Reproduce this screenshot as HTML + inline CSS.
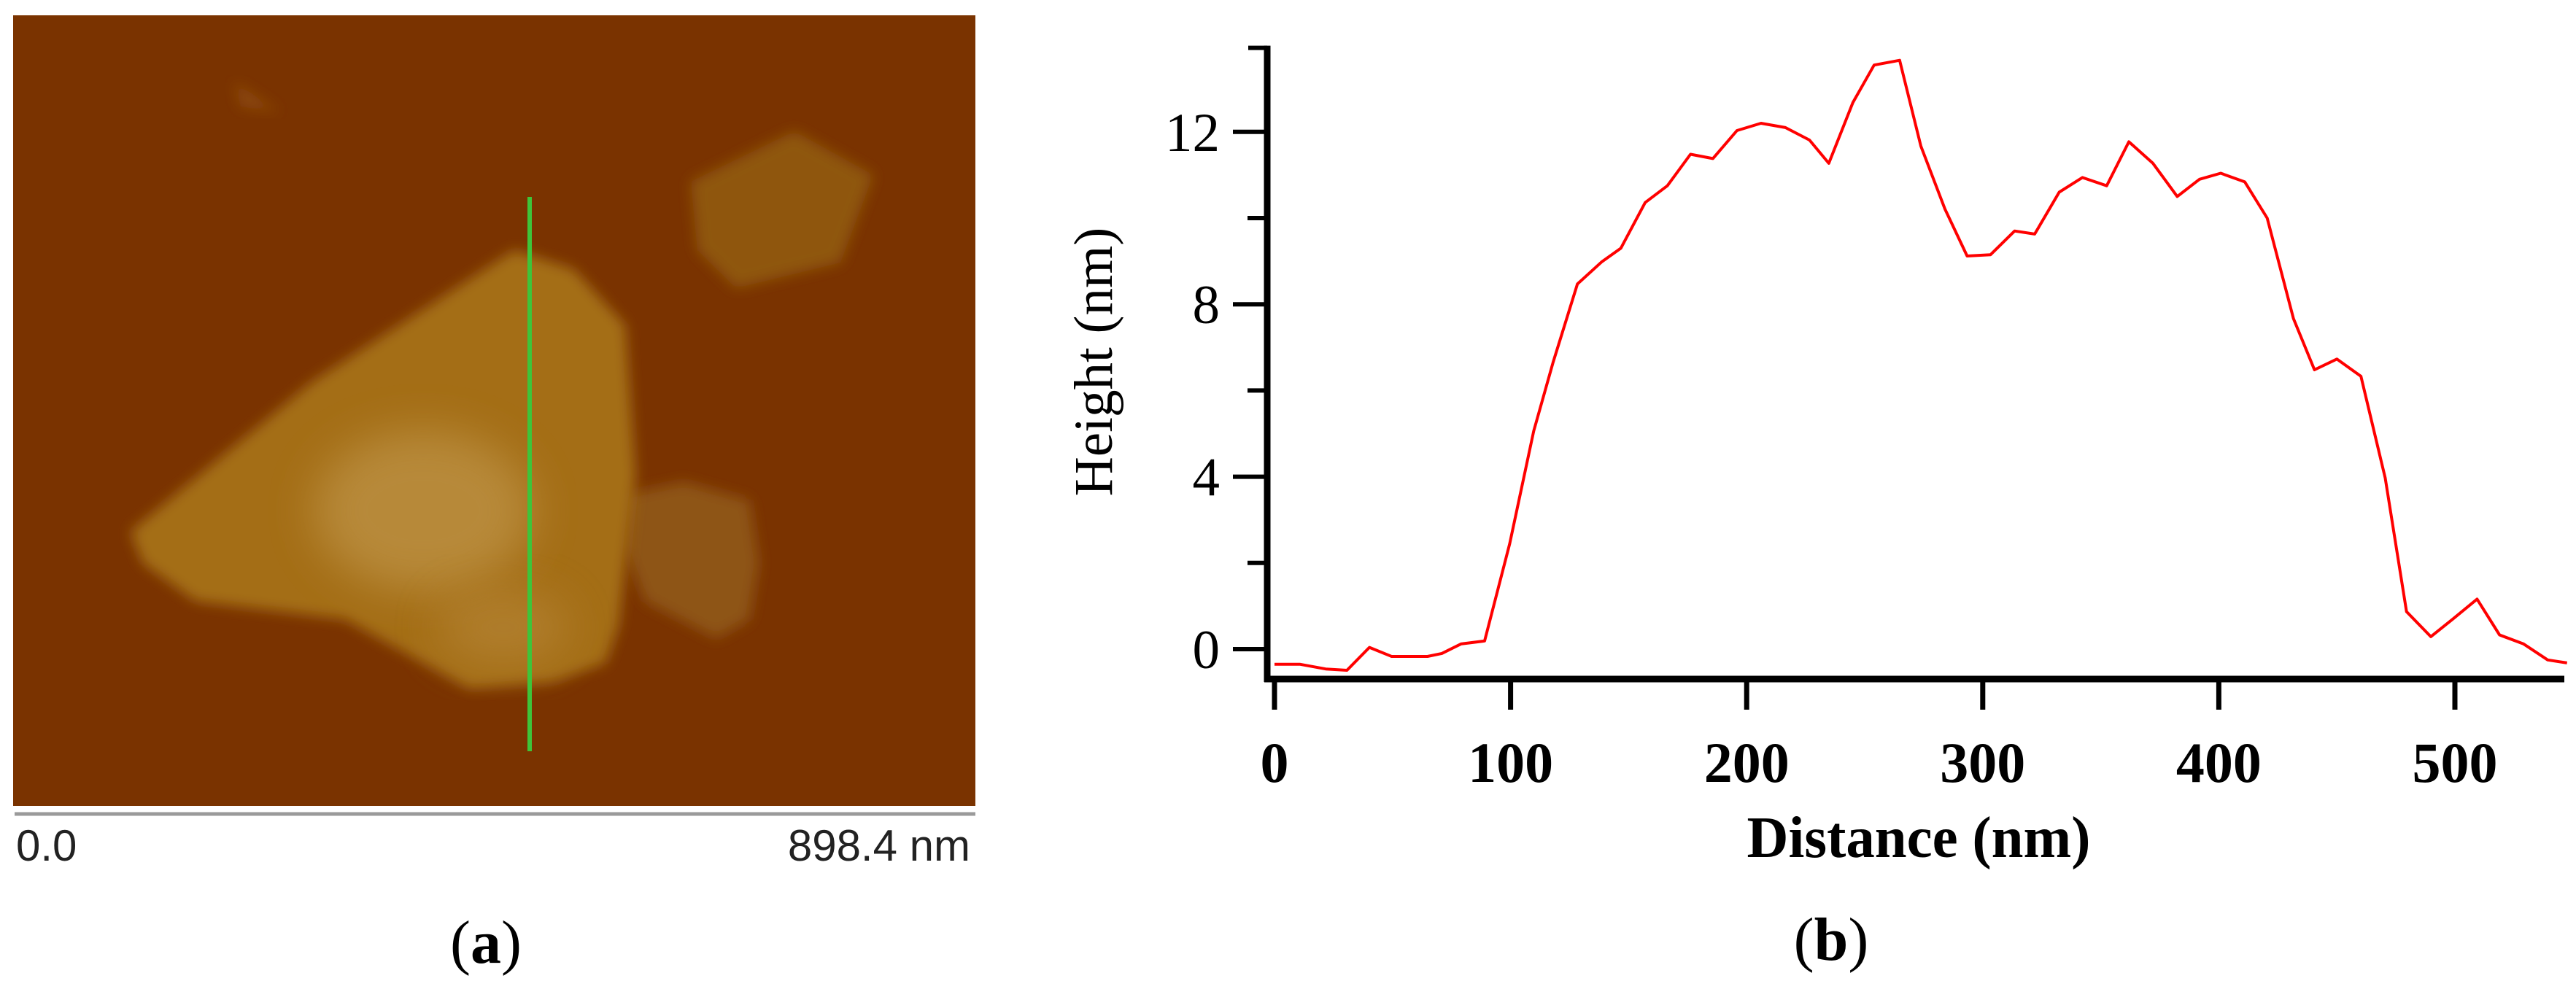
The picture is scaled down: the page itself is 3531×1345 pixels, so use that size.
<!DOCTYPE html>
<html><head><meta charset="utf-8"><style>
html,body{margin:0;padding:0;background:#fff;}
svg{display:block;}
</style></head><body>
<svg id="fig" width="3531" height="1345" viewBox="0 0 3531 1345" xmlns="http://www.w3.org/2000/svg">
<defs>
<filter id="blur1" x="-20%" y="-20%" width="140%" height="140%"><feGaussianBlur stdDeviation="9"/></filter>
<filter id="blur2" x="-50%" y="-50%" width="200%" height="200%"><feGaussianBlur stdDeviation="30"/></filter>
<clipPath id="imgclip"><rect x="18" y="21" width="1319" height="1084"/></clipPath>
</defs>
<g>
<rect x="18" y="21" width="1319" height="1084" fill="#7a3300"/>
<g clip-path="url(#imgclip)">
<polygon points="321,112 384,154 330,146" fill="#8c4a10" filter="url(#blur1)"/>
<polygon points="947,249 1089,180 1197,240 1152,360 1009,395 956,343" fill="#8f560f" filter="url(#blur1)"/>
<polygon points="857,678 938,661 1027,686 1040,772 1027,849 982,875 884,824 857,755" fill="#8e5512" filter="url(#blur1)"/>
<polygon points="179,729 429,523 705,343 786,369 857,446 871,652 848,858 830,909 759,935 643,944 473,849 268,824 196,772" fill="#a46e18" filter="url(#blur1)"/>
<ellipse cx="580" cy="700" rx="150" ry="110" fill="#c09548" opacity="0.7" filter="url(#blur2)"/>
<ellipse cx="690" cy="860" rx="90" ry="50" fill="#b8883a" opacity="0.6" filter="url(#blur2)"/>
<line x1="726" y1="270" x2="726" y2="1030" stroke="#3ec43a" stroke-width="6"/>
</g>
<line x1="20" y1="1116" x2="1337" y2="1116" stroke="#9a9a9a" stroke-width="5"/>
<text x="22" y="1180" font-family="Liberation Sans, sans-serif" font-size="60" fill="#222">0.0</text>
<text x="1330" y="1180" text-anchor="end" font-family="Liberation Sans, sans-serif" font-size="60" fill="#222">898.4 nm</text>
<text x="666" y="1320" text-anchor="middle" font-family="Liberation Serif, serif" font-size="84" fill="#000">(<tspan font-weight="bold">a</tspan>)</text>
</g>
<g id="chart"></g>
<text x="2510" y="1316" text-anchor="middle" font-family="Liberation Serif, serif" font-size="84" fill="#000">(<tspan font-weight="bold">b</tspan>)</text>
</svg>
<script>
const distances=[0,10.7,21.7,30.7,40.2,49.6,64.8,70.9,79,89,99.6,109.8,118,128.3,138.5,146.7,157,166.4,176.2,185.7,195.9,206.1,216.4,226.6,234.8,245,254,264.8,273.8,284,293.4,303.3,313.5,322,332.4,342.2,352.5,361.9,372.1,382.4,391.8,400.8,411,420.5,431.6,440.5,450,460.2,470.5,479.5,489.8,499.2,509.4,518.9,529.1,539.3,547.5];
const heights=[-0.35,-0.35,-0.46,-0.49,0.04,-0.17,-0.17,-0.1,0.12,0.19,2.44,5.06,6.65,8.47,8.98,9.3,10.36,10.75,11.48,11.38,12.03,12.2,12.1,11.81,11.27,12.68,13.55,13.66,11.67,10.21,9.12,9.15,9.7,9.63,10.6,10.94,10.75,11.77,11.27,10.5,10.9,11.04,10.84,10,7.67,6.48,6.73,6.33,3.97,0.87,0.29,0.7,1.16,0.33,0.12,-0.25,-0.32];
const xTicks=[0,100,200,300,400,500];
const yTicks=[0,4,8,12];
const yMinorTicks=[2,6,10];
const NS="http://www.w3.org/2000/svg";
const g=document.getElementById('chart');
const X=v=>1747+v*3.236;
const Y=v=>890-v*59.1;
function mk(tag,attrs,parent){const e=document.createElementNS(NS,tag);for(const k in attrs)e.setAttribute(k,attrs[k]);(parent||g).appendChild(e);return e;}
// axes
let ya=mk('line',{x1:1737,y1:Y(14),x2:1737,y2:935,stroke:'#000','stroke-width':9});


let xa=mk('line',{x1:1733,y1:931,x2:3515,y2:931,stroke:'#000','stroke-width':9});


let topTick=mk('line',{x1:1711,y1:Y(14)+3,x2:1737,y2:Y(14)+3,stroke:'#000','stroke-width':6});


xTicks.forEach(t=>{
  const l=mk('line',{x1:X(t),y1:931,x2:X(t),y2:973,stroke:'#000','stroke-width':7});
  
  
  const tx=mk('text',{x:X(t),y:1072,'text-anchor':'middle','font-family':'Liberation Serif, serif','font-weight':'bold','font-size':78,fill:'#000'});
  tx.textContent=t;
  
  
});
yTicks.forEach(t=>{
  const l=mk('line',{x1:1690,y1:Y(t),x2:1737,y2:Y(t),stroke:'#000','stroke-width':6});
  
  
  const tx=mk('text',{x:1672,y:Y(t)+26,'text-anchor':'end','font-family':'Liberation Serif, serif','font-size':75,fill:'#000'});
  tx.textContent=t;
  
  
});
yMinorTicks.forEach(t=>{
  const l=mk('line',{x1:1710,y1:Y(t),x2:1737,y2:Y(t),stroke:'#000','stroke-width':6});
  
  
});
const xt=mk('text',{x:2630,y:1175,'text-anchor':'middle','font-family':'Liberation Serif, serif','font-weight':'bold','font-size':80,fill:'#000',textLength:471,lengthAdjust:'spacingAndGlyphs'});
xt.textContent='Distance (nm)';


const yt=mk('text',{x:0,y:0,'text-anchor':'middle','font-family':'Liberation Serif, serif','font-size':75,fill:'#000',transform:'translate(1524,496) rotate(-90)'});
yt.textContent='Height (nm)';


const pts=distances.map((d,i)=>X(d).toFixed(1)+','+Y(heights[i]).toFixed(1)).join(' ');
const pl=mk('polyline',{points:pts,fill:'none',stroke:'#ff0000','stroke-width':4,'stroke-linejoin':'round'});


</script>
</body></html>
